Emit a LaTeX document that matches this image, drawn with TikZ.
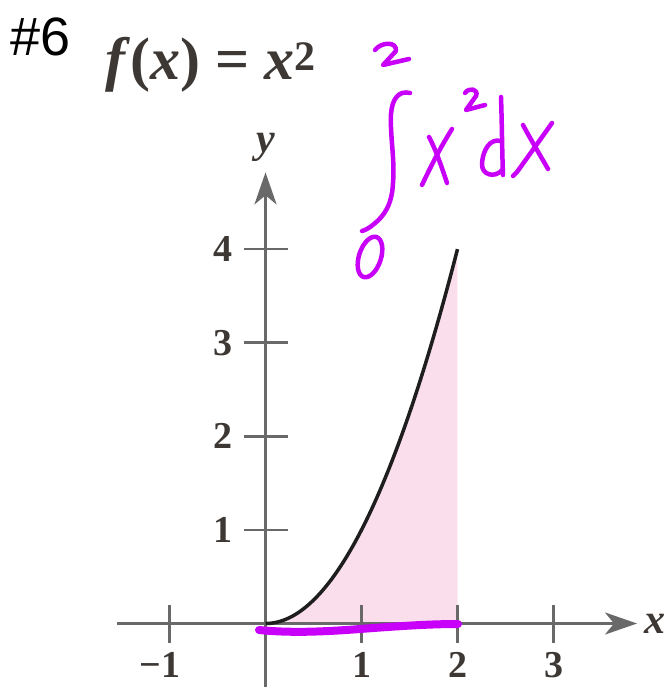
\documentclass[tikz,border=0pt]{standalone}
\usepackage{fontspec}
\setmainfont{Liberation Serif}
\newfontfamily\labelsans{Liberation Sans}
\usetikzlibrary{arrows.meta}
\definecolor{axisgray}{RGB}{105,105,105}
\definecolor{inkpurple}{RGB}{200,0,250}
\definecolor{shadepink}{RGB}{250,222,236}
\definecolor{textbrown}{RGB}{62,56,52}
\definecolor{curveblack}{RGB}{30,30,30}
\begin{document}
\begin{tikzpicture}[x=1pt,y=-1pt,
  axisline/.style={draw=axisgray,line width=3pt},
  tickline/.style={draw=axisgray,line width=2.6pt},
  ticklabel/.style={text=textbrown,font=\fontsize{38}{40}\selectfont\bfseries,inner sep=0pt},
  axislabel/.style={text=textbrown,font=\fontsize{42}{44}\selectfont\bfseries\itshape,inner sep=0pt},
  hand/.style={draw=inkpurple,line width=4.5pt,line cap=round,line join=round},
  axistip/.style={-{Stealth[length=32pt,width=22pt,inset=9pt]}},
]
\useasboundingbox (0,0) rectangle (669,687);
\fill[white] (0,0) rectangle (669,687);
% header
\node[anchor=base west,inner sep=0pt,font=\labelsans\fontsize{54}{58}\selectfont] (num) at (10,56) {\#6};
\node[anchor=base west,inner sep=0pt,text=textbrown,font=\fontsize{60}{62}\selectfont\bfseries] (title) at (105,80)
  {\textit{f}(\textit{x}) = \textit{x}\textsuperscript{2}};
% graph
\begin{scope}[shift={(265.5,623.5)},x={(96pt,0pt)},y={(0pt,93.6pt)}]
  \fill[shadepink] (0,0) -- plot[domain=0:2,samples=60] (\x,{\x*\x}) -- (2,0) -- cycle;
  \coordinate (xl) at (-1.547,0);
  \coordinate (xr) at (3.87,0);
  \coordinate (yb) at (0,-0.7);
  \coordinate (yt) at (0,4.82);
  \draw[axisline,axistip] (xl) -- (xr);
  \draw[axisline,axistip] (yb) -- (yt);
  \foreach \t in {-1,1,2,3} \draw[tickline] (\t,0) +(0pt,-19pt) -- +(0pt,19pt);
  \foreach \t in {1,2,3,4} \draw[tickline] (0,\t) +(-22pt,0pt) -- +(22pt,0pt);
  \foreach \t in {1,2,3} \node[ticklabel] (xt\t) at ([yshift=-41.5pt]\t,0) {\t};
  \node[ticklabel,anchor=east] (xtm) at ([xshift=11pt,yshift=-41.5pt]-1,0) {\char"2212 1};
  \foreach \t in {1,2,3,4} \node[ticklabel] (yt\t) at ([xshift=-42.5pt]0,\t) {\t};
  \node[axislabel] (xlab) at ([xshift=18pt]xr) {x};
  \node[axislabel] (ylab) at ([yshift=25pt]yt) {y};
  \draw[curveblack,line width=3.5pt] plot[domain=0:2,samples=80] (\x,{\x*\x});
\end{scope}
% handwriting
\draw[hand,line width=8pt] (259,630) .. controls (290,633) and (320,632) .. (360,629) .. controls (400,626) and (430,624) .. (458,624);
% upper limit 2
\draw[hand] (375,50) .. controls (381,42) and (397,41) .. (396,51) -- (383,65) -- (409,59);
% integral sign
\draw[hand] (410,93) .. controls (398,90) and (392,100) .. (391,114) .. controls (390,137) and (395,160) .. (393,183) .. controls (392,205) and (384,216) .. (374,224) .. controls (368,229) and (365,230) .. (362,231);
% lower limit 0
\draw[hand] (370,257) ellipse [x radius=11pt,y radius=21pt,rotate=-18];
% x
\draw[hand] (429,137) .. controls (436,150) and (442,168) .. (447,183);
\draw[hand] (452,129) .. controls (440,148) and (430,168) .. (422,185);
% superscript 2
\draw[hand] (465,93) .. controls (469,87) and (479,89) .. (476,96) -- (466,110) -- (485,105);
% d
\draw[hand] (501,97) .. controls (502,125) and (502,150) .. (503,175);
\draw[hand] (501,141) .. controls (490,138) and (483,150) .. (482,163) .. controls (481,176) and (496,178) .. (502,170);
% x
\draw[hand] (523,125) .. controls (531,140) and (540,155) .. (548,169);
\draw[hand] (552,123) .. controls (540,140) and (527,158) .. (517,172) -- (513,176);
\end{tikzpicture}
\end{document}
